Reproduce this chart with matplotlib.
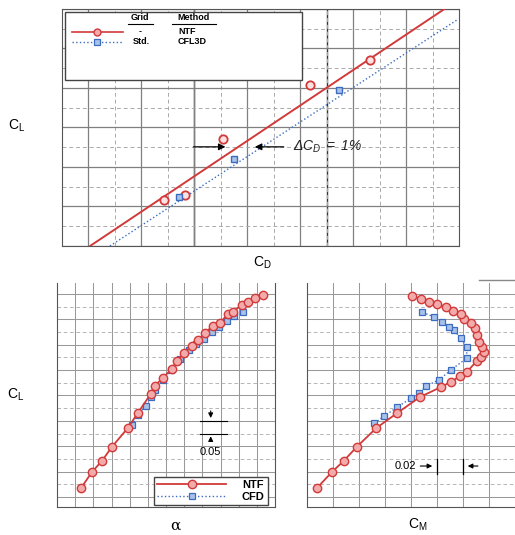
import numpy as np
import matplotlib.pyplot as plt
from matplotlib.lines import Line2D
from matplotlib.patches import Rectangle

plt.rcParams['font.family'] = ['Liberation Sans', 'DejaVu Sans']
plt.rcParams['mathtext.fontset'] = 'custom'
plt.rcParams['mathtext.rm'] = 'Liberation Sans:italic'
plt.rcParams['mathtext.it'] = 'Liberation Sans:italic'
plt.rcParams['mathtext.sf'] = 'Liberation Sans'

# Polar de arrastre (unidades de la cuadricula)
ntf_cd = [3.86, 4.64, 6.08, 9.36, 11.62]
ntf_cl = [1.16, 1.28, 2.72, 4.08, 4.70]
cfl_cd = [4.42, 6.48, 10.47]
cfl_cl = [1.24, 2.20, 3.95]
ntf_fit_cd = [1.06, 14.47]
ntf_fit_cl = [0.0, 6.01]
cfl_fit_cd = [1.81, 14.96]
cfl_fit_cl = [0.0, 5.74]

# CL vs alpha
ntf_alpha = [1.32, 1.92, 2.47, 3.02, 3.90, 4.45, 5.16, 5.38, 5.82, 6.32, 6.59, 6.98,
             7.42, 7.75, 8.13, 8.57, 8.96, 9.40, 9.67, 10.16, 10.49, 10.88, 11.32]
ntf_cl_a = [0.235, 0.298, 0.342, 0.397, 0.472, 0.531, 0.606, 0.637, 0.669, 0.704, 0.735, 0.767,
            0.794, 0.818, 0.846, 0.873, 0.885, 0.920, 0.928, 0.956, 0.968, 0.983, 0.995]
cfd_alpha = [4.12, 4.45, 4.89, 5.16, 5.38, 5.82, 6.26, 6.76, 7.25, 7.64, 8.08, 8.52,
             8.90, 9.34, 9.73, 10.22]
cfd_cl_a = [0.483, 0.523, 0.558, 0.594, 0.621, 0.661, 0.700, 0.743, 0.779, 0.802, 0.822, 0.850,
            0.869, 0.893, 0.913, 0.928]

# CL vs CM
ntf_cm = [-0.0924, -0.0809, -0.0718, -0.0618, -0.0466, -0.0305, -0.0130, 0.0031, 0.0107,
          0.0176, 0.0229, 0.0305, 0.0336, 0.0359, 0.0344, 0.0321, 0.0305, 0.0290, 0.0260,
          0.0206, 0.0183, 0.0122, 0.0069, 0.0000, -0.0061, -0.0122, -0.0191]
ntf_cl_m = [0.235, 0.298, 0.342, 0.397, 0.472, 0.531, 0.594, 0.633, 0.653, 0.676, 0.692,
            0.735, 0.751, 0.771, 0.791, 0.810, 0.838, 0.865, 0.885, 0.901, 0.920, 0.932,
            0.948, 0.960, 0.968, 0.980, 0.991]
cfd_cm = [-0.0481, -0.0405, -0.0305, -0.0198, -0.0137, -0.0084, 0.0015, 0.0107, 0.0229,
          0.0229, 0.0183, 0.0130, 0.0092, 0.0038, -0.0023, -0.0115]
cfd_cl_m = [0.491, 0.519, 0.554, 0.590, 0.609, 0.637, 0.661, 0.700, 0.747, 0.791, 0.826,
            0.857, 0.869, 0.889, 0.909, 0.928]

rojo = '#d23a3a'
rojo_claro = '#f2aaaa'
azul = '#3b6cc0'
azul_claro = '#a8c2ea'
gris = '#808080'

fig = plt.figure(figsize=(5.15, 5.35), dpi=100)


def limpiar(ax):
    ax.tick_params(which='both', length=0, labelbottom=False, labelleft=False)
    ax.set_axisbelow(True)


# ---------- panel superior ----------
ax1 = fig.add_axes([0.1204, 0.5402, 0.771, 0.443])
ax1.set_xlim(0, 15)
ax1.set_ylim(0, 6)
ax1.set_xticks(np.arange(1, 15, 2))
ax1.set_xticks(np.arange(2, 15, 2), minor=True)
ax1.set_yticks(np.arange(0, 7, 1))
ax1.set_yticks(np.arange(0.5, 6, 1), minor=True)
ax1.grid(which='major', color=gris, lw=0.9)
ax1.grid(which='minor', color='#aaaaaa', lw=0.7, ls=(0, (4, 3)))
for xv in [5, 10]:
    ax1.axvline(xv, color='#333333', lw=1.0, zorder=0.5)
limpiar(ax1)
for s in ax1.spines.values():
    s.set_color('#555555')

ax1.plot(ntf_fit_cd, ntf_fit_cl, color=rojo, lw=1.4, zorder=3)
ax1.plot(cfl_fit_cd, cfl_fit_cl, color=azul, lw=1.0, ls=':', zorder=3)
ax1.plot(ntf_cd, ntf_cl, 'o', ms=6, mfc='#fbe3e3', mec=rojo, mew=1.3, zorder=4)
ax1.plot(cfl_cd, cfl_cl, 's', ms=4.5, mfc=azul_claro, mec=azul, mew=1.0, zorder=4)

flecha = dict(arrowstyle='-|>', color='k', lw=0.9, mutation_scale=10)
ax1.annotate('', xy=(6.28, 2.51), xytext=(4.86, 2.51), arrowprops=flecha)
ax1.annotate('', xy=(7.18, 2.51), xytext=(8.48, 2.51), arrowprops=flecha)
ax1.text(8.73, 2.51, r'$\Delta C_D\ =\ 1\%$', fontsize=10, va='center', ha='left',
         color='#222222')

# leyenda propia
tr = ax1.transAxes
ax1.add_patch(Rectangle((0.008, 0.70), 0.597, 0.287, transform=tr, facecolor='white',
                        edgecolor='#444444', lw=1.0, zorder=5))
kw = dict(transform=tr, fontsize=6.5, fontweight='bold', zorder=6, va='center')
ax1.text(0.196, 0.962, 'Grid', ha='center', **kw)
ax1.text(0.332, 0.962, 'Method', ha='center', **kw)
ax1.add_line(Line2D([0.166, 0.229], [0.935, 0.935], transform=tr, color='k', lw=0.8, zorder=6))
ax1.add_line(Line2D([0.277, 0.388], [0.935, 0.935], transform=tr, color='k', lw=0.8, zorder=6))
ax1.add_line(Line2D([0.025, 0.154], [0.903, 0.903], transform=tr, color=rojo, lw=1.2, zorder=6))
ax1.add_line(Line2D([0.088], [0.903], transform=tr, marker='o', ms=5, mfc=rojo_claro,
                    mec=rojo, mew=1.0, zorder=7))
ax1.add_line(Line2D([0.025, 0.154], [0.861, 0.861], transform=tr, color=azul, lw=1.0, ls=':',
                    zorder=6))
ax1.add_line(Line2D([0.088], [0.861], transform=tr, marker='s', ms=4, mfc=azul_claro,
                    mec=azul, mew=0.9, zorder=7))
ax1.text(0.196, 0.903, '-', ha='center', **kw)
ax1.text(0.292, 0.903, 'NTF', ha='left', **kw)
ax1.text(0.200, 0.861, 'Std.', ha='center', **kw)
ax1.text(0.290, 0.861, 'CFL3D', ha='left', **kw)

fig.text(17 / 515, 1 - 126 / 535, r'C$_\mathsf{L}$', fontsize=10, ha='center', va='center')
fig.text(262 / 515, 1 - 263 / 535, r'C$_\mathsf{D}$', fontsize=10, ha='center', va='center')

# ---------- panel inferior izquierdo ----------
ylim_b = (0.1606, 1.0425)
ax2 = fig.add_axes([0.1107, 0.0523, 0.4233, 0.4187])
ax2.set_xlim(0, 12)
ax2.set_ylim(*ylim_b)
ax2.set_xticks(np.arange(1, 12, 1))
ax2.set_yticks(np.arange(0.2, 1.05, 0.1))
ax2.set_yticks(np.arange(0.25, 1.05, 0.1), minor=True)
ax2.grid(which='major', color='#999999', lw=0.75)
ax2.grid(which='minor', axis='y', color='#b0b0b0', lw=0.65, ls=(0, (4, 3)))
limpiar(ax2)
ax2.spines['top'].set_visible(False)
for s in ['left', 'right', 'bottom']:
    ax2.spines[s].set_color('#555555')

l_ntf, = ax2.plot(ntf_alpha, ntf_cl_a, '-o', color=rojo, lw=1.3, ms=6, mfc=rojo_claro,
                  mec=rojo, mew=1.0, zorder=4, label='NTF')
l_cfd, = ax2.plot(cfd_alpha, cfd_cl_a, ':s', color=azul, lw=1.0, ms=5, mfc=azul_claro,
                  mec=azul, mew=0.9, zorder=3, label='CFD')
ax2.legend(handles=[l_ntf, l_cfd], loc='lower right', bbox_to_anchor=(0.968, 0.009),
           borderaxespad=0, fancybox=False, edgecolor='#444444', framealpha=1,
           handlelength=6.2, handletextpad=1.4, labelspacing=0.15, borderpad=0.3,
           prop=dict(size=8, weight='bold'))

ax2.plot([7.86, 9.34], [0.5, 0.5], color='k', lw=0.8)
ax2.plot([7.86, 9.34], [0.45, 0.45], color='k', lw=0.8)
flecha2 = dict(arrowstyle='-|>', color='k', lw=0.8, mutation_scale=7)
ax2.annotate('', xy=(8.46, 0.5), xytext=(8.46, 0.55), arrowprops=flecha2)
ax2.annotate('', xy=(8.46, 0.45), xytext=(8.46, 0.415), arrowprops=flecha2)
ax2.text(8.46, 0.377, '0.05', ha='center', va='center', fontsize=8)

fig.text(16 / 515, 1 - 395 / 535, r'C$_\mathsf{L}$', fontsize=10, ha='center', va='center')
fig.text(175 / 515, 1 - 526 / 535, 'α', fontsize=11, ha='center', va='center',
         family=['DejaVu Serif'])

# ---------- panel inferior derecho ----------
ax3 = fig.add_axes([0.5961, 0.0523, 0.4039, 0.4187])
ax3.set_xlim(-0.10, 0.0588)
ax3.set_ylim(*ylim_b)
ax3.set_xticks(np.arange(-0.08, 0.06, 0.02))
ax3.set_yticks(np.arange(0.2, 1.05, 0.1))
ax3.set_yticks(np.arange(0.25, 1.05, 0.1), minor=True)
ax3.grid(which='major', color='#999999', lw=0.75)
ax3.grid(which='minor', axis='y', color='#b0b0b0', lw=0.65, ls=(0, (4, 3)))
limpiar(ax3)
ax3.spines['top'].set_visible(False)
ax3.spines['right'].set_visible(False)
for s in ['left', 'bottom']:
    ax3.spines[s].set_color('#555555')

ax3.plot(cfd_cm, cfd_cl_m, ':s', color=azul, lw=1.0, ms=5, mfc=azul_claro, mec=azul,
         mew=0.9, zorder=3)
ax3.plot(ntf_cm, ntf_cl_m, '-o', color=rojo, lw=1.3, ms=6, mfc=rojo_claro, mec=rojo,
         mew=1.0, zorder=4)

ax3.plot([0.0, 0.0], [0.29, 0.35], color='k', lw=0.9)
ax3.plot([0.02, 0.02], [0.29, 0.35], color='k', lw=0.9)
ax3.annotate('', xy=(-0.0015, 0.322), xytext=(-0.0150, 0.322), arrowprops=flecha2)
ax3.annotate('', xy=(0.0215, 0.322), xytext=(0.0336, 0.322), arrowprops=flecha2)
ax3.text(-0.0160, 0.322, '0.02', ha='right', va='center', fontsize=8)

fig.text(418 / 515, 1 - 525 / 535, r'C$_\mathsf{M}$', fontsize=10, ha='center', va='center')
fig.add_artist(Line2D([479 / 515, 1.0], [1 - 280 / 535, 1 - 280 / 535], color='#888888',
                      lw=1.0))

fig.savefig('out.png', dpi=100)
